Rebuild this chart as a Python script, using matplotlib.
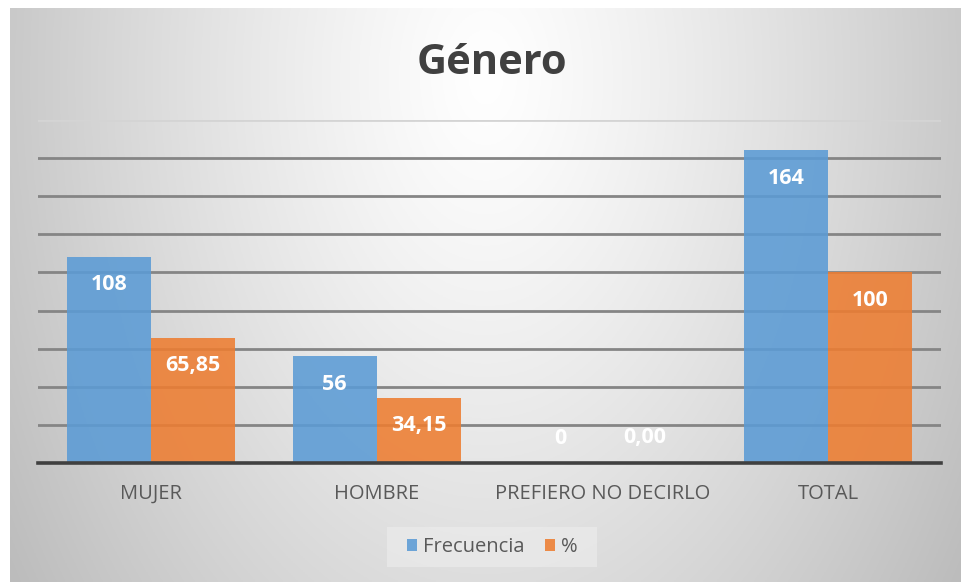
import numpy as np
import matplotlib
matplotlib.use("Agg")
import matplotlib.pyplot as plt
from matplotlib.patches import Rectangle

categories = ["MUJER", "HOMBRE", "PREFIERO NO DECIRLO", "TOTAL"]
frecuencia = [108, 56, 0, 164]
porcentaje = [65.85, 34.15, 0.00, 100]
freq_labels = ["108", "56", "0", "164"]
pct_labels = ["65,85", "34,15", "0,00", "100"]
series_names = ["Frecuencia", "%"]
title = "Género"

plt.rcParams['font.family'] = ['Open Sans', 'DejaVu Sans']

W, H = 962, 583
fig = plt.figure(figsize=(W / 100, H / 100), dpi=100)
fig.patch.set_facecolor("white")

# background gradient panel
bx0, bx1, by0, by1 = 10, 962, 8, 582
bg = fig.add_axes([bx0 / W, 1 - by1 / H, (bx1 - bx0) / W, (by1 - by0) / H])
nx, ny = 400, 240
xx, yy = np.meshgrid(np.linspace(-1, 1, nx), np.linspace(0, 1, ny))
r = np.sqrt((xx / 1.0) ** 2 + ((yy - 0.12) / 1.3) ** 2)
val = 1.0 - 0.21 * np.clip(r, 0, 1.2) ** 1.2
bg.imshow(np.dstack([val, val, val]), extent=[0, 1, 0, 1], aspect="auto", origin="upper",
          vmin=0, vmax=1)
bg.set_axis_off()

# main axes
left, right, top, base = 38, 941, 120, 463
ax = fig.add_axes([left / W, 1 - base / H, (right - left) / W, (base - top) / H])
ax.patch.set_alpha(0)

x = np.arange(len(categories))
w = 0.372
blue = "#5b9bd5"
orange = "#ed7d31"

ax.set_ylim(0, 180)
ax.set_xlim(-0.5, len(categories) - 0.5)
ax.set_yticks(np.arange(20, 181, 20))
ax.yaxis.grid(True, color="#858585", linewidth=2.0, zorder=0)
gl = ax.get_ygridlines()
gl[-1].set_color("#d4d4d4")
ax.set_axisbelow(True)

b1 = ax.bar(x - w / 2, frecuencia, w, color=blue, alpha=0.88, zorder=2, label=series_names[0])
b2 = ax.bar(x + w / 2, porcentaje, w, color=orange, alpha=0.88, zorder=2, label=series_names[1])

for bars, labs in ((b1, freq_labels), (b2, pct_labels)):
    for rect, lab in zip(bars, labs):
        h = rect.get_height()
        off = -20 if h > 0 else 18
        ax.annotate(lab, (rect.get_x() + rect.get_width() / 2, h), xytext=(0, off),
                    textcoords="offset points", ha="center", va="center",
                    color="white", fontsize=15.5, fontweight="bold", zorder=3)

for s in ["left", "right", "top"]:
    ax.spines[s].set_visible(False)
ax.spines["bottom"].set_color("#404040")
ax.spines["bottom"].set_linewidth(2.6)
ax.spines["bottom"].set_zorder(4)
ax.tick_params(axis="y", left=False, labelleft=False)
ax.tick_params(axis="x", length=0, pad=15, labelsize=14.5, labelcolor="#595959")
ax.set_xticks(x)
ax.set_xticklabels(categories)

fig.text(492 / W, 1 - 63 / H, title, ha="center", va="center", fontsize=30,
         fontweight="bold", color="#404040")

# legend frame
fig.patches.append(Rectangle((387 / W, 1 - 567 / H), 210 / W, 40 / H,
                             transform=fig.transFigure, facecolor="#ebebeb",
                             edgecolor="none", alpha=0.7, zorder=0))
leg = fig.legend(handles=[b1, b2], labels=series_names, loc="center",
                 bbox_to_anchor=(492 / W, 1 - 547 / H), ncol=2, frameon=False,
                 fontsize=14.5, handlelength=0.5, handleheight=0.5, handletextpad=0.3,
                 columnspacing=1.0, labelcolor="#595959")

fig.savefig("out.png", dpi=100, facecolor="white")
